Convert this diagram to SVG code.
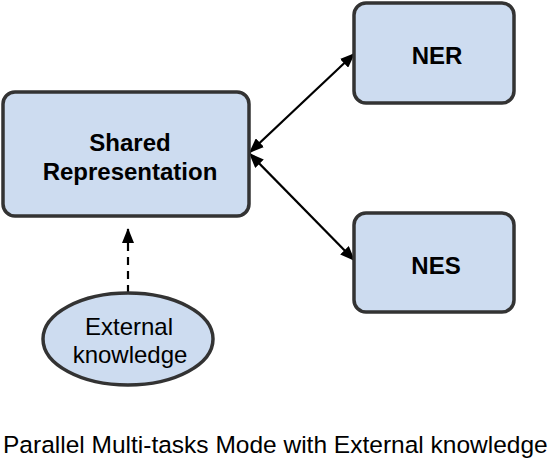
<svg xmlns="http://www.w3.org/2000/svg" width="554" height="463" viewBox="0 0 554 463">
<style>
.box{fill:#cddcf0;stroke:#333;stroke-width:3.5}
.lbl{font-family:"Liberation Sans",Arial,sans-serif;font-weight:bold;font-size:24px;fill:#000;text-anchor:middle}
.txt{font-family:"Liberation Sans",Arial,sans-serif;font-size:24px;fill:#000;text-anchor:middle}
.conn{stroke:#000;stroke-width:2.2;fill:none}
</style>
<defs>
<marker id="ah" markerUnits="userSpaceOnUse" markerWidth="16" markerHeight="12" refX="15" refY="6" orient="auto-start-reverse" viewBox="0 0 16 12">
<path d="M0,0 L15,6 L0,12 z" fill="#000"/>
</marker>
</defs>
<rect width="554" height="463" fill="#fff"/>
<g id="connectors">
<line class="conn" x1="249" y1="153" x2="355" y2="53" marker-start="url(#ah)" marker-end="url(#ah)"/>
<line class="conn" x1="249" y1="153" x2="355" y2="261" marker-start="url(#ah)" marker-end="url(#ah)"/>
<line class="conn" x1="128" y1="293" x2="128" y2="228" stroke-dasharray="8,6" marker-end="url(#ah)"/>
</g>
<g id="shared">
<rect class="box" x="3" y="92" width="246" height="124" rx="12"/>
<text class="lbl" x="130" y="151">Shared</text>
<text class="lbl" x="130" y="180">Representation</text>
</g>
<g id="ner">
<rect class="box" x="354" y="3" width="160" height="100" rx="12"/>
<text class="lbl" x="437" y="64">NER</text>
</g>
<g id="nes">
<rect class="box" x="354" y="213" width="160" height="99" rx="12"/>
<text class="lbl" x="436" y="274">NES</text>
</g>
<g id="external">
<ellipse class="box" cx="128" cy="339" rx="85" ry="46"/>
<text class="txt" x="129" y="335">External</text>
<text class="txt" x="130" y="363">knowledge</text>
</g>
<text class="txt" x="3" y="453" style="text-anchor:start;font-size:24.5px">Parallel Multi-tasks Mode with External knowledge</text>
</svg>
